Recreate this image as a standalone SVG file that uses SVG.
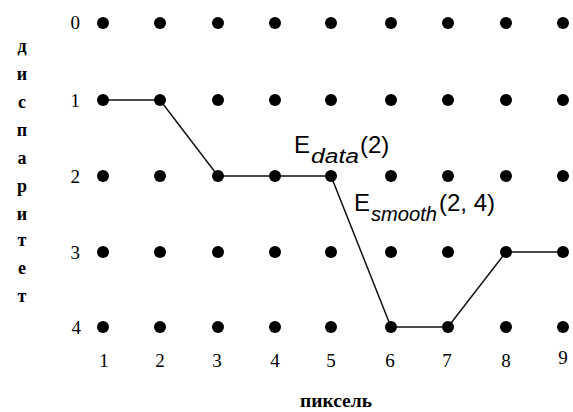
<svg xmlns="http://www.w3.org/2000/svg" width="573" height="412" viewBox="0 0 573 412">
<style>
.dot{fill:#000}
.lbl{font-family:"Liberation Serif",serif;font-size:19px;fill:#000}
.vl{font-family:"Liberation Serif",serif;font-size:18px;font-weight:bold;fill:#000;text-anchor:middle}
.e{font-family:"Liberation Sans",sans-serif;font-size:24px;fill:#000}
.sub{font-family:"Liberation Sans",sans-serif;font-size:20px;font-style:italic;fill:#000}
.conn{stroke:#111;stroke-width:1.5;fill:none}
</style>
<rect width="573" height="412" fill="#fff"/>
<g id="axis-y-title">
<text class="vl" x="22" y="52">д</text>
<text class="vl" x="22" y="80">и</text>
<text class="vl" x="22" y="108">с</text>
<text class="vl" x="22" y="136">п</text>
<text class="vl" x="22" y="164">а</text>
<text class="vl" x="22" y="192">р</text>
<text class="vl" x="22" y="220">и</text>
<text class="vl" x="22" y="246">т</text>
<text class="vl" x="22" y="274">е</text>
<text class="vl" x="22" y="302">т</text>
</g>
<g id="axis-x-title">
<text class="vl" x="336" y="407" textLength="72" lengthAdjust="spacingAndGlyphs">пиксель</text>
</g>
<g id="row-labels" text-anchor="end">
<text class="lbl" x="80" y="29">0</text>
<text class="lbl" x="80" y="107">1</text>
<text class="lbl" x="80" y="183">2</text>
<text class="lbl" x="80" y="259">3</text>
<text class="lbl" x="81" y="334">4</text>
</g>
<g id="col-labels" text-anchor="middle">
<text class="lbl" x="104" y="367">1</text>
<text class="lbl" x="160" y="367">2</text>
<text class="lbl" x="217" y="367">3</text>
<text class="lbl" x="275" y="367">4</text>
<text class="lbl" x="331" y="367">5</text>
<text class="lbl" x="390" y="367">6</text>
<text class="lbl" x="447" y="367">7</text>
<text class="lbl" x="506" y="367">8</text>
<text class="lbl" x="563" y="364">9</text>
</g>
<g id="connectors">
<polyline class="conn" points="103,100 160,100 218,176 275,176 331,176 391,327 448,327 506,252 563,252"/>
</g>
<g id="grid-dots">
<g id="row0"><circle class="dot" cx="103" cy="23" r="6"/><circle class="dot" cx="160" cy="23" r="6"/><circle class="dot" cx="218" cy="23" r="6"/><circle class="dot" cx="275" cy="23" r="6"/><circle class="dot" cx="331" cy="23" r="6"/><circle class="dot" cx="391" cy="23" r="6"/><circle class="dot" cx="448" cy="23" r="6"/><circle class="dot" cx="506" cy="23" r="6"/><circle class="dot" cx="563" cy="23" r="6"/></g>
<g id="row1"><circle class="dot" cx="103" cy="100" r="6"/><circle class="dot" cx="160" cy="100" r="6"/><circle class="dot" cx="218" cy="100" r="6"/><circle class="dot" cx="275" cy="100" r="6"/><circle class="dot" cx="331" cy="100" r="6"/><circle class="dot" cx="391" cy="100" r="6"/><circle class="dot" cx="448" cy="100" r="6"/><circle class="dot" cx="506" cy="100" r="6"/><circle class="dot" cx="563" cy="100" r="6"/></g>
<g id="row2"><circle class="dot" cx="103" cy="176" r="6"/><circle class="dot" cx="160" cy="176" r="6"/><circle class="dot" cx="218" cy="176" r="6"/><circle class="dot" cx="275" cy="176" r="6"/><circle class="dot" cx="331" cy="176" r="6"/><circle class="dot" cx="391" cy="176" r="6"/><circle class="dot" cx="448" cy="176" r="6"/><circle class="dot" cx="506" cy="176" r="6"/><circle class="dot" cx="563" cy="176" r="6"/></g>
<g id="row3"><circle class="dot" cx="103" cy="252" r="6"/><circle class="dot" cx="160" cy="252" r="6"/><circle class="dot" cx="218" cy="252" r="6"/><circle class="dot" cx="275" cy="252" r="6"/><circle class="dot" cx="331" cy="252" r="6"/><circle class="dot" cx="391" cy="252" r="6"/><circle class="dot" cx="448" cy="252" r="6"/><circle class="dot" cx="506" cy="252" r="6"/><circle class="dot" cx="563" cy="252" r="6"/></g>
<g id="row4"><circle class="dot" cx="103" cy="327" r="6"/><circle class="dot" cx="160" cy="327" r="6"/><circle class="dot" cx="218" cy="327" r="6"/><circle class="dot" cx="275" cy="327" r="6"/><circle class="dot" cx="331" cy="327" r="6"/><circle class="dot" cx="391" cy="327" r="6"/><circle class="dot" cx="448" cy="327" r="6"/><circle class="dot" cx="506" cy="327" r="6"/><circle class="dot" cx="563" cy="327" r="6"/></g>
</g>
<g id="label-edata">
<text class="e" x="294" y="153">E<tspan class="sub" x="311" y="163" textLength="48" lengthAdjust="spacingAndGlyphs">data</tspan><tspan x="360" y="153">(2)</tspan></text>
</g>
<g id="label-esmooth">
<text class="e" x="354" y="211">E<tspan class="sub" x="371" y="221" textLength="66" lengthAdjust="spacingAndGlyphs">smooth</tspan><tspan x="439" y="211">(2, 4)</tspan></text>
</g>
</svg>
